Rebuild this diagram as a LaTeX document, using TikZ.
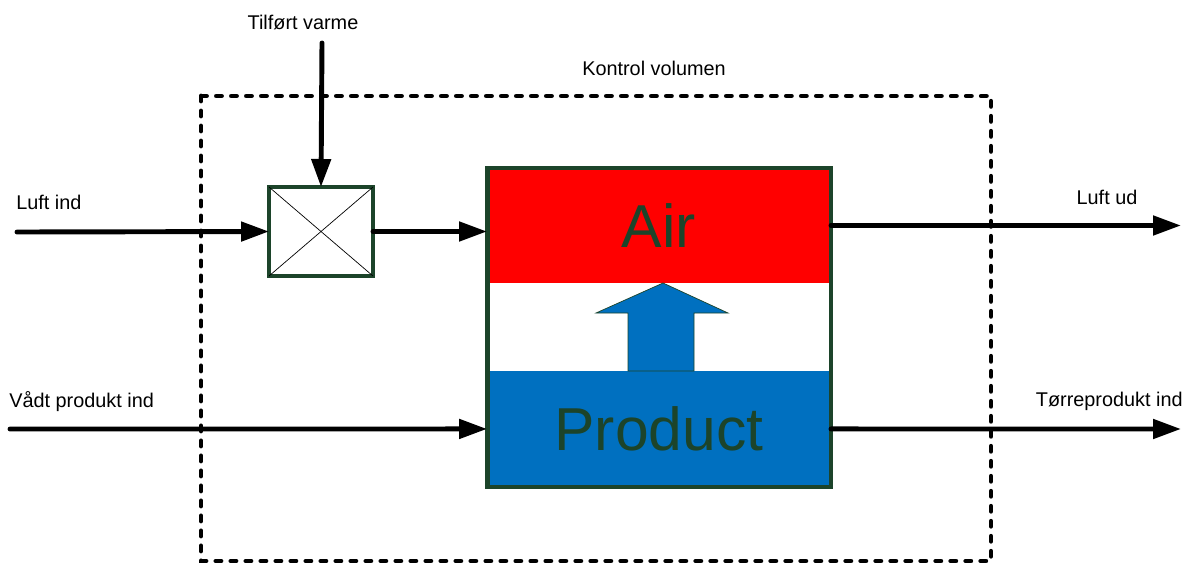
\documentclass[tikz,border=0pt]{standalone}
\usepackage{fontspec}
\setmainfont{Liberation Sans}
\usetikzlibrary{arrows.meta}

\definecolor{boxgreen}{RGB}{28,68,42}
\definecolor{prodblue}{RGB}{0,112,192}

\begin{document}
\begin{tikzpicture}[x=0.02cm,y=-0.02cm,
		flow/.style={line width=2.8pt,line cap=round,-{Triangle[length=0.56cm,width=0.38cm]}},
		cvline/.style={line width=2.8pt,line cap=round,dash pattern=on 0.1cm off 0.2cm},
		lbl/.style={font=\fontsize{11.3}{13}\selectfont,inner sep=0pt},
		big/.style={font=\fontsize{34.5}{38}\selectfont,text=boxgreen},
		layer/.style={minimum width=6.88cm,inner sep=0pt,outer sep=0pt,anchor=north}]
			\useasboundingbox (0,0) rectangle (1183,565);
			
			% control volume
			\draw[cvline] (201,96) rectangle (991,561);
			\node[lbl] (KV) at (654,68) {Kontrol volumen};
			
			% dryer: air / gap / product
			\node[layer,fill=red,minimum height=2.3cm,big] (Air) at (659,168) {Air};
			\node[layer,fill=white,minimum height=1.76cm] (Gap) at (Air.south) {};
			\node[layer,fill=prodblue,minimum height=2.32cm,big] (Product) at (Gap.south) {Product};
			\node[draw=boxgreen,line width=2.8pt,minimum width=6.88cm,minimum height=6.38cm,outer sep=0pt] (Dryer) at (659,327.5) {};
			
			% moisture transfer
			\filldraw[fill=prodblue,draw=boxgreen,thin] (628,371) -- (694,371) -- (694,313) -- (728,313)
				-- (663,283) -- (596,313) -- (628,313) -- cycle;
			
			% heater / mixer
			\node[draw=boxgreen,line width=2.8pt,fill=white,minimum width=2.08cm,minimum height=1.78cm,outer sep=0pt] (Mixer) at (321,231.5) {};
			\draw[thin] (Mixer.north west) -- (Mixer.south east);
			\draw[thin] (Mixer.north east) -- (Mixer.south west);
			
			\coordinate (HeatIn) at (322,43);
			\coordinate (LuftIn) at (17,232);
			\coordinate (ProdIn) at (10,429);
			\coordinate (LuftUd) at (1181,225.5);
			\coordinate (ProdUd) at (1181,429);
			
			\draw[flow] (HeatIn) -- (Mixer.north);
			\draw[flow] (LuftIn) -- (Mixer.west);
			\draw[flow] (Mixer.east) -- (Mixer.east -| Dryer.west);
			\draw[flow] (ProdIn) -- (Product.west);
			\draw[flow] (Air.east) -- (LuftUd);
			\draw[flow] (Product.east) -- (ProdUd);
			
			\node[lbl] (Varme) at (303,22) {Tilført varme};
			\node[lbl,anchor=west] (LuftIndL) at (16,202) {Luft ind};
			\node[lbl,anchor=west] (ProdIndL) at (9,402) {Vådt produkt ind};
			\node[lbl] (LuftUdL) at (1107,197) {Luft ud};
			\node[lbl,anchor=east] (ProdUdL) at (1183,401) {Tørreprodukt ind};
		\end{tikzpicture}
\end{document}
